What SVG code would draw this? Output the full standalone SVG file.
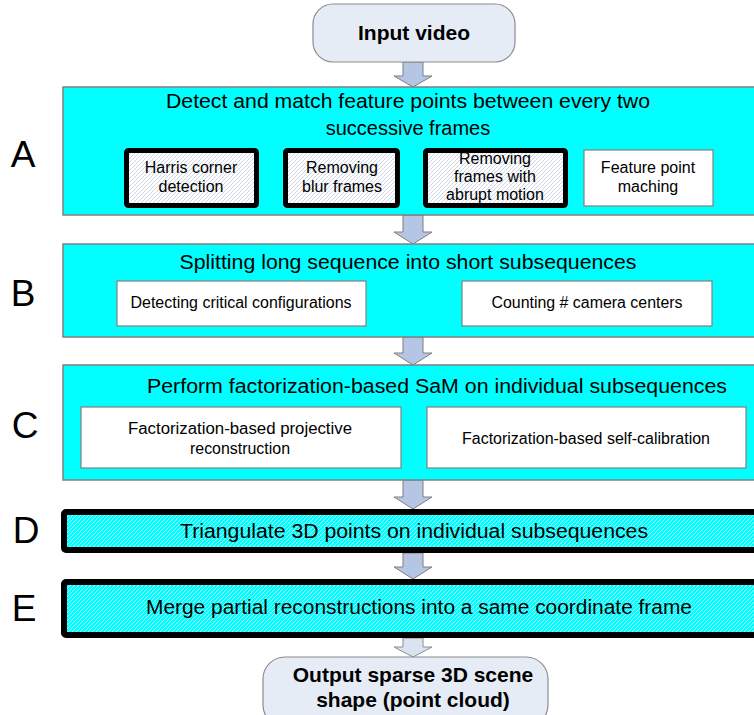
<svg xmlns="http://www.w3.org/2000/svg" width="754" height="715" viewBox="0 0 754 715">
<defs>
<pattern id="hatchW" width="4" height="4" patternUnits="userSpaceOnUse">
<rect width="4" height="4" fill="#ffffff"/>
<path d="M-1,1 L1,-1 M0,4 L4,0 M3,5 L5,3" stroke="#cfd6e6" stroke-width="1"/>
</pattern>
<pattern id="hatchC" width="4" height="4" patternUnits="userSpaceOnUse">
<rect width="4" height="4" fill="#00ffff"/>
<path d="M-1,1 L1,-1 M0,4 L4,0 M3,5 L5,3" stroke="#a8f2f8" stroke-width="1"/>
</pattern>
</defs>
<style>
text{font-family:"Liberation Sans",Arial,sans-serif;fill:#000}
.stage{fill:#00ffff;stroke:#808080;stroke-width:1.5}
.thick{fill:url(#hatchC);stroke:#000;stroke-width:6}
.sub{fill:url(#hatchW);stroke:#000;stroke-width:5}
.plain{fill:#fff;stroke:#808080;stroke-width:1.2}
.term{fill:#e6ecf6;stroke:#8c8c8c;stroke-width:1.2}
.arrow{fill:#b4c6e4;stroke:#7f7f7f;stroke-width:1}
.arrowL{fill:#d9e3f1;stroke:#8c8c8c;stroke-width:1}
.ttl{font-size:20px;text-anchor:middle}
.lbl{font-size:16px;text-anchor:middle}
.big{font-size:21px;font-weight:bold;text-anchor:middle}
.let{font-size:37px;text-anchor:middle}
</style>

<g id="connectors">
<path class="arrow" d="M403,62 H423 V76 H432 L413,87 L394,76 H403 Z"/>
<path class="arrow" d="M403,215 H423 V232 H432 L413,244 L394,232 H403 Z"/>
<path class="arrow" d="M403,337 H423 V353 H432 L413,365 L394,353 H403 Z"/>
<path class="arrow" d="M403,480 H423 V497 H432 L413,509 L394,497 H403 Z"/>
<path class="arrow" d="M403,553 H423 V567 H432 L413,579 L394,567 H403 Z"/>
<path class="arrowL" d="M403,638 H423 V647 H432 L413,657 L394,647 H403 Z"/>
</g>

<g id="input">
<rect class="term" x="313" y="4" width="202" height="58" rx="20"/>
<text class="big" x="414" y="40">Input video</text>
</g>

<g id="labels">
<text class="let" x="23" y="167">A</text>
<text class="let" x="23" y="306">B</text>
<text class="let" x="25" y="438">C</text>
<text class="let" x="26" y="543">D</text>
<text class="let" x="24" y="621">E</text>
</g>

<g id="stageA">
<rect class="stage" x="63" y="87" width="700" height="128"/>
<text class="ttl" x="408" y="108" textLength="484" lengthAdjust="spacingAndGlyphs">Detect and match feature points between every two</text>
<text class="ttl" x="408" y="135">successive frames</text>
</g>
<g id="harris">
<rect class="sub" x="126.5" y="150.5" width="130" height="55" rx="2"/>
<text class="lbl" x="191" y="173">Harris corner</text>
<text class="lbl" x="191" y="192">detection</text>
</g>
<g id="blur">
<rect class="sub" x="285.5" y="150.5" width="112" height="55" rx="2"/>
<text class="lbl" x="342" y="173">Removing</text>
<text class="lbl" x="342" y="192">blur frames</text>
</g>
<g id="abrupt">
<rect class="sub" x="425.5" y="150.5" width="140" height="55" rx="2"/>
<text class="lbl" x="495" y="164">Removing</text>
<text class="lbl" x="495" y="182">frames with</text>
<text class="lbl" x="495" y="200">abrupt motion</text>
</g>
<g id="matching">
<rect class="plain" x="584" y="150" width="129" height="56"/>
<text class="lbl" x="648" y="173">Feature point</text>
<text class="lbl" x="648" y="192">maching</text>
</g>

<g id="stageB">
<rect class="stage" x="63" y="244" width="700" height="93"/>
<text class="ttl" x="408" y="269" textLength="457" lengthAdjust="spacingAndGlyphs">Splitting long sequence into short subsequences</text>
</g>
<g id="critical">
<rect class="plain" x="117" y="281" width="249" height="45"/>
<text class="lbl" x="241" y="308" textLength="221" lengthAdjust="spacingAndGlyphs">Detecting critical configurations</text>
</g>
<g id="counting">
<rect class="plain" x="462" y="281" width="250" height="45"/>
<text class="lbl" x="587" y="308" textLength="191" lengthAdjust="spacingAndGlyphs">Counting # camera centers</text>
</g>

<g id="stageC">
<rect class="stage" x="63" y="365" width="700" height="115"/>
<text class="ttl" x="437" y="393" textLength="580" lengthAdjust="spacingAndGlyphs">Perform factorization-based SaM on individual subsequences</text>
</g>
<g id="projective">
<rect class="plain" x="81" y="407" width="320" height="61"/>
<text class="lbl" x="240" y="434" textLength="224" lengthAdjust="spacingAndGlyphs">Factorization-based projective</text>
<text class="lbl" x="240" y="454" textLength="100" lengthAdjust="spacingAndGlyphs">reconstruction</text>
</g>
<g id="selfcal">
<rect class="plain" x="427" y="407" width="319" height="61"/>
<text class="lbl" x="586" y="444" textLength="248" lengthAdjust="spacingAndGlyphs">Factorization-based self-calibration</text>
</g>

<g id="stageD">
<rect class="thick" x="64" y="512" width="700" height="38" rx="2"/>
<text class="ttl" x="414" y="538" textLength="468" lengthAdjust="spacingAndGlyphs">Triangulate 3D points on individual subsequences</text>
</g>

<g id="stageE">
<rect class="thick" x="64" y="582" width="700" height="53" rx="2"/>
<text class="ttl" x="419" y="614" textLength="546" lengthAdjust="spacingAndGlyphs">Merge partial reconstructions into a same coordinate frame</text>
</g>

<g id="output">
<rect class="term" x="263" y="657" width="285" height="70" rx="22"/>
<text class="big" x="413" y="682">Output sparse 3D scene</text>
<text class="big" x="413" y="707">shape (point cloud)</text>
</g>
</svg>
